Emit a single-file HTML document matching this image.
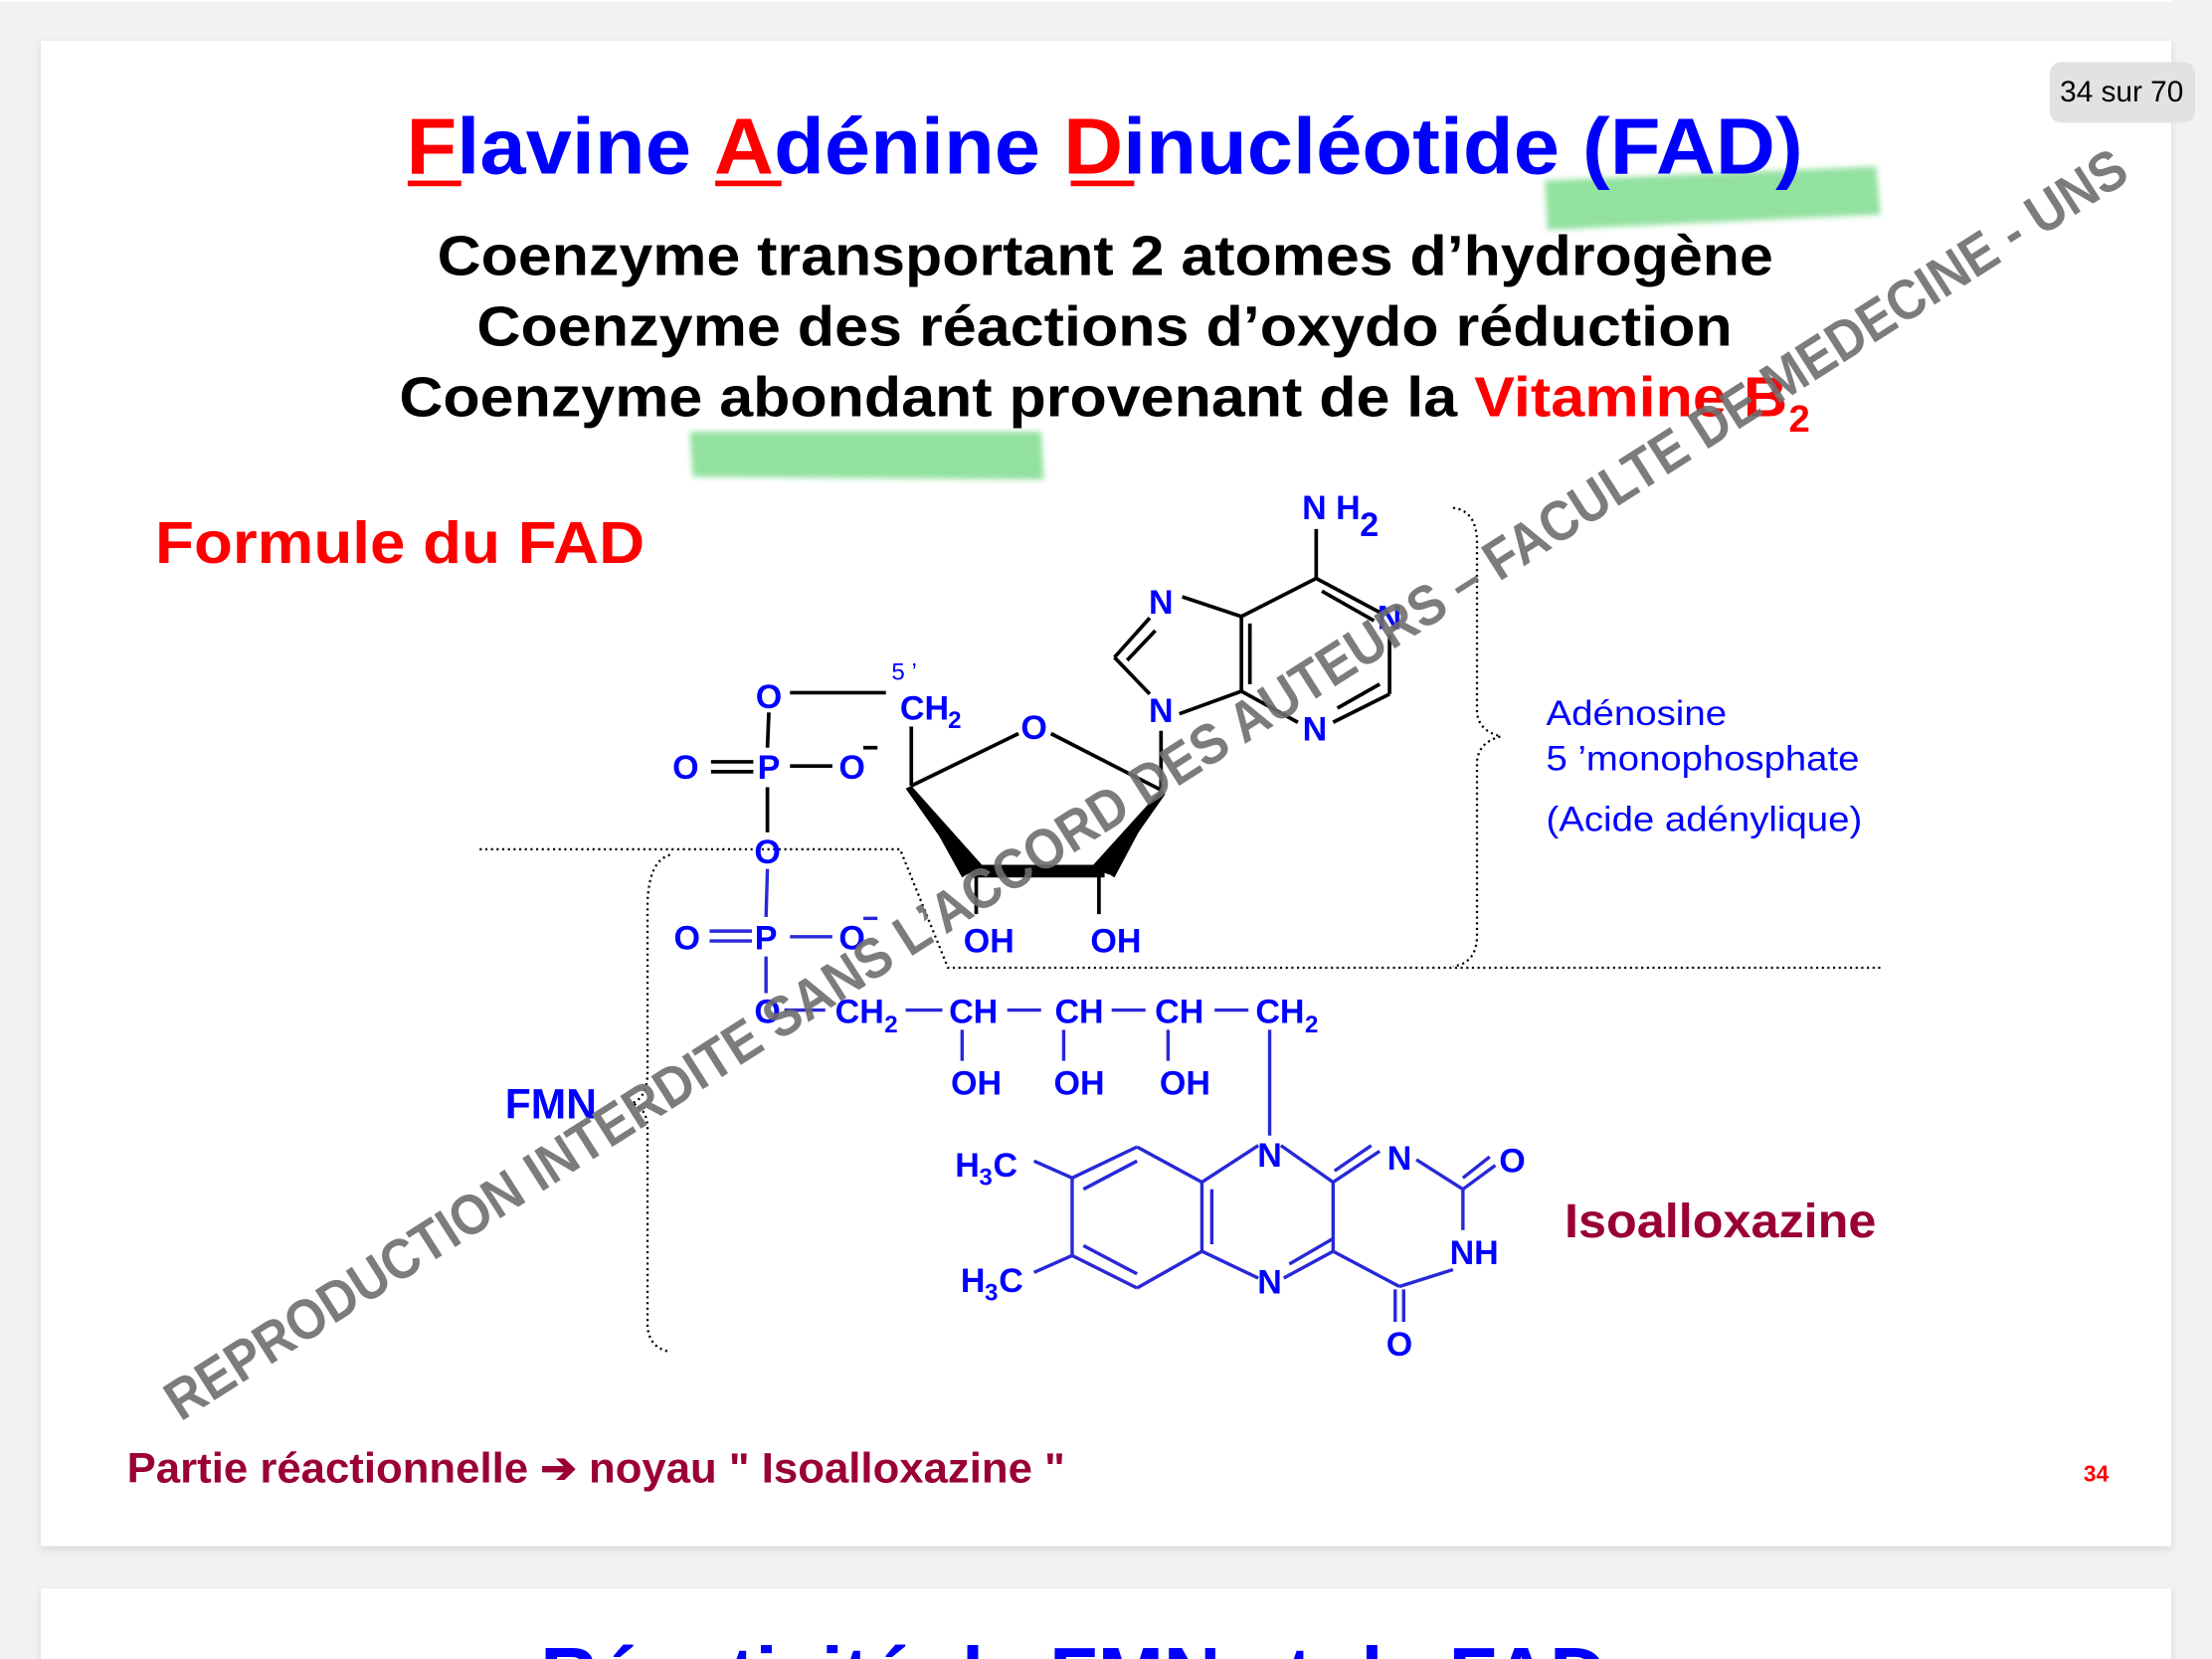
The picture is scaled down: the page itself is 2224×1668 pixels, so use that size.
<!DOCTYPE html>
<html><head><meta charset="utf-8"><style>
html,body{margin:0;padding:0;background:#f1f2f4;}
svg{display:block;}
text{font-family:"Liberation Sans",Arial,sans-serif;}
</style></head><body>
<svg width="2224" height="1668" viewBox="0 0 1568 1176" xmlns="http://www.w3.org/2000/svg">
<defs>
<filter id="sh" x="-5%" y="-5%" width="110%" height="110%"><feGaussianBlur stdDeviation="3"/></filter>
<filter id="bl"><feGaussianBlur stdDeviation="2"/></filter>
</defs>
<rect width="1568" height="1176" fill="#f1f2f4"/>
<rect x="0" y="-10" width="1540" height="11" fill="#fff"/>
<rect x="29" y="31" width="1510" height="1067" fill="#d5d6d8" filter="url(#sh)"/>
<rect x="29" y="29" width="1510" height="1067" fill="#fff"/>
<rect x="29" y="1128" width="1510" height="60" fill="#d5d6d8" filter="url(#sh)"/>
<rect x="29" y="1126" width="1510" height="60" fill="#fff"/>
<text x="383" y="1207" font-size="56" font-weight="bold" fill="#0000ff">Réactivité de FMN et de FAD</text>

<!-- highlights -->
<path d="M1095,128 L1330,118 L1333,152 L1097,163 Z" fill="#7fdc8f" opacity="0.85" filter="url(#bl)"/>
<path d="M489,306 L738,306 L740,340 L491,338 Z" fill="#7fdc8f" opacity="0.85" filter="url(#bl)"/>

<!-- title -->
<text x="288" y="123" font-size="56" font-weight="bold" fill="#0000ff" textLength="990" lengthAdjust="spacingAndGlyphs"><tspan fill="#ff0000">F</tspan>lavine <tspan fill="#ff0000">A</tspan>dénine <tspan fill="#ff0000">D</tspan>inucléotide (FAD)</text>
<rect x="289" y="128" width="38" height="4" fill="#ff0000"/>
<rect x="507" y="128" width="47" height="4" fill="#ff0000"/>
<rect x="759" y="128" width="45" height="4" fill="#ff0000"/>

<text x="310" y="195" font-size="40" font-weight="bold" fill="#000" textLength="947" lengthAdjust="spacingAndGlyphs">Coenzyme transportant 2 atomes d’hydrogène</text>
<text x="338" y="245" font-size="40" font-weight="bold" fill="#000" textLength="890" lengthAdjust="spacingAndGlyphs">Coenzyme des réactions d’oxydo    réduction</text>
<text x="283" y="295" font-size="40" font-weight="bold" fill="#000" textLength="750" lengthAdjust="spacingAndGlyphs">Coenzyme abondant provenant de la</text>
<text x="1045" y="295" font-size="40" font-weight="bold" fill="#ff0000" textLength="222" lengthAdjust="spacingAndGlyphs">Vitamine B</text>
<text x="1268" y="306" font-size="27" font-weight="bold" fill="#ff0000">2</text>

<!-- badge -->
<rect x="1453" y="44" width="103" height="43" rx="8" fill="#e2e2e2"/>
<text x="1504" y="72" font-size="21" fill="#000" text-anchor="middle">34 sur 70</text>

<text x="110" y="399" font-size="42" font-weight="bold" fill="#ff0000" textLength="347" lengthAdjust="spacingAndGlyphs">Formule du FAD</text>

<!-- dotted boundaries -->
<g fill="none" stroke="#000" stroke-width="1.6" stroke-dasharray="1.5 2.5">
<path d="M340,602 L638,602 L672,686 L1335,686"/>
<path d="M475,606 Q460,610 459,640 L459,760 Q459,778 448,782 Q459,786 459,800 L459,940 Q460,955 474,958"/>
<path d="M1030,360 Q1047,362 1047,385 L1047,505 Q1048,518 1064,522 Q1048,526 1047,540 L1047,665 Q1046,683 1030,685"/>
</g>

<!-- black part -->
<g stroke="#000" stroke-width="2.6" fill="none">
<line x1="560" y1="491" x2="628" y2="491"/>
<line x1="545" y1="505" x2="544" y2="530"/>
<line x1="544" y1="558" x2="544" y2="590"/>
<line x1="504" y1="540" x2="534" y2="540"/><line x1="504" y1="547" x2="534" y2="547"/>
<line x1="560" y1="543" x2="590" y2="543"/>
<line x1="612" y1="530" x2="622" y2="530"/>
<line x1="646" y1="515" x2="646" y2="557"/>
<line x1="646" y1="557" x2="722" y2="520"/>
<line x1="745" y1="520" x2="823" y2="560"/>
<line x1="692" y1="620" x2="692" y2="648"/>
<line x1="779" y1="620" x2="779" y2="648"/>
<line x1="823" y1="560" x2="823" y2="518"/>
<line x1="836" y1="506" x2="880" y2="490"/>
<line x1="880" y1="490" x2="880" y2="437"/><line x1="886" y1="485" x2="886" y2="442"/>
<line x1="880" y1="437" x2="838" y2="423"/>
<line x1="815" y1="438" x2="790" y2="466"/><line x1="819" y1="447" x2="799" y2="468"/>
<line x1="790" y1="466" x2="815" y2="492"/>
<line x1="880" y1="437" x2="933" y2="410"/>
<line x1="933" y1="410" x2="978" y2="434"/><line x1="937" y1="419" x2="974" y2="440"/>
<line x1="985" y1="450" x2="985" y2="492"/>
<line x1="985" y1="492" x2="945" y2="512"/><line x1="978" y1="485" x2="948" y2="502"/>
<line x1="880" y1="490" x2="920" y2="512"/>
<line x1="933" y1="375" x2="933" y2="410"/>
</g>
<polygon points="646,557 692,617 685,620 642,559" fill="#000"/>
<polygon points="823,560 779,617 786,620 826,563" fill="#000"/>
<polygon points="688,613 783,613 783,622 688,622" fill="#000"/>
<polygon points="646,557 696,613 682,622" fill="#000"/>
<polygon points="823,560 775,613 790,622" fill="#000"/>
<g font-weight="bold" fill="#0000ff" font-size="24">
<text x="545" y="502" text-anchor="middle">O</text>
<text x="638" y="510" font-size="24">CH</text><text x="672" y="516" font-size="17">2</text>
<text x="632" y="482" font-size="17" font-weight="normal">5 ’</text>
<text x="486" y="552" text-anchor="middle">O</text>
<text x="545" y="552" text-anchor="middle">P</text>
<text x="604" y="552" text-anchor="middle">O</text>
<text x="544" y="612" text-anchor="middle">O</text>
<text x="733" y="524" text-anchor="middle">O</text>
<text x="701" y="675" text-anchor="middle">OH</text>
<text x="791" y="675" text-anchor="middle">OH</text>
<text x="823" y="512" text-anchor="middle">N</text>
<text x="823" y="435" text-anchor="middle">N</text>
<text x="985" y="446" text-anchor="middle">N</text>
<text x="932" y="525" text-anchor="middle">N</text>
<text x="923" y="368">N H</text><text x="964" y="380">2</text>
</g>

<!-- blue FMN part -->
<g stroke="#2828d8" stroke-width="2.4" fill="none">
<line x1="544" y1="616" x2="543" y2="650"/>
<line x1="543" y1="678" x2="543" y2="704"/>
<line x1="503" y1="660" x2="533" y2="660"/><line x1="503" y1="667" x2="533" y2="667"/>
<line x1="560" y1="664" x2="590" y2="664"/>
<line x1="612" y1="651" x2="622" y2="651"/>
<line x1="556" y1="716" x2="585" y2="716"/>
<line x1="642" y1="716" x2="668" y2="716"/>
<line x1="714" y1="716" x2="738" y2="716"/>
<line x1="788" y1="716" x2="812" y2="716"/>
<line x1="861" y1="716" x2="885" y2="716"/>
<line x1="682" y1="730" x2="682" y2="752"/>
<line x1="754" y1="730" x2="754" y2="752"/>
<line x1="828" y1="730" x2="828" y2="752"/>
<line x1="900" y1="730" x2="900" y2="805"/>
<line x1="760" y1="835" x2="806" y2="813"/><line x1="768" y1="843" x2="806" y2="823"/>
<line x1="806" y1="813" x2="852" y2="838"/>
<line x1="852" y1="838" x2="852" y2="887"/><line x1="859" y1="843" x2="859" y2="882"/>
<line x1="852" y1="887" x2="806" y2="913"/>
<line x1="806" y1="913" x2="760" y2="890"/><line x1="806" y1="903" x2="768" y2="883"/>
<line x1="760" y1="890" x2="760" y2="835"/>
<line x1="852" y1="838" x2="892" y2="812"/>
<line x1="908" y1="812" x2="945" y2="838"/>
<line x1="945" y1="838" x2="945" y2="887"/>
<line x1="945" y1="887" x2="910" y2="906"/><line x1="945" y1="878" x2="914" y2="896"/>
<line x1="852" y1="887" x2="892" y2="906"/>
<line x1="945" y1="838" x2="978" y2="816"/><line x1="946" y1="830" x2="972" y2="812"/>
<line x1="1004" y1="822" x2="1037" y2="843"/>
<line x1="1037" y1="843" x2="1060" y2="826"/><line x1="1037" y1="835" x2="1056" y2="820"/>
<line x1="1037" y1="843" x2="1037" y2="872"/>
<line x1="1030" y1="900" x2="992" y2="912"/>
<line x1="945" y1="887" x2="992" y2="912"/>
<line x1="989" y1="914" x2="989" y2="937"/><line x1="995" y1="914" x2="995" y2="937"/>
<line x1="733" y1="823" x2="760" y2="835"/>
<line x1="733" y1="902" x2="760" y2="890"/>
</g>
<g font-weight="bold" fill="#0000ff" font-size="24">
<text x="487" y="673" text-anchor="middle">O</text>
<text x="543" y="673" text-anchor="middle">P</text>
<text x="604" y="673" text-anchor="middle">O</text>
<text x="544" y="725" text-anchor="middle">O</text>
<text x="592" y="725">CH</text><text x="627" y="732" font-size="17">2</text>
<text x="690" y="725" text-anchor="middle">CH</text>
<text x="765" y="725" text-anchor="middle">CH</text>
<text x="836" y="725" text-anchor="middle">CH</text>
<text x="890" y="725">CH</text><text x="925" y="732" font-size="17">2</text>
<text x="692" y="776" text-anchor="middle">OH</text>
<text x="765" y="776" text-anchor="middle">OH</text>
<text x="840" y="776" text-anchor="middle">OH</text>
<text x="900" y="827" text-anchor="middle">N</text>
<text x="900" y="917" text-anchor="middle">N</text>
<text x="992" y="829" text-anchor="middle">N</text>
<text x="1072" y="831" text-anchor="middle">O</text>
<text x="1045" y="896" text-anchor="middle">NH</text>
<text x="992" y="961" text-anchor="middle">O</text>
<text x="677" y="834">H</text><text x="694" y="840" font-size="17">3</text><text x="704" y="834">C</text>
<text x="681" y="916">H</text><text x="698" y="922" font-size="17">3</text><text x="708" y="916">C</text>
</g>

<text x="358" y="793" font-size="30" font-weight="bold" fill="#0000ff">FMN</text>
<text x="1096" y="514" font-size="25" fill="#0000ff" textLength="128" lengthAdjust="spacingAndGlyphs">Adénosine</text>
<text x="1096" y="546" font-size="25" fill="#0000ff" textLength="222" lengthAdjust="spacingAndGlyphs">5 ’monophosphate</text>
<text x="1096" y="589" font-size="25" fill="#0000ff" textLength="224" lengthAdjust="spacingAndGlyphs">(Acide adénylique)</text>
<text x="1109" y="877" font-size="34" font-weight="bold" fill="#9a0035" textLength="221" lengthAdjust="spacingAndGlyphs">Isoalloxazine</text>
<text x="90" y="1051" font-size="30" font-weight="bold" fill="#9a0035" textLength="665" lengthAdjust="spacingAndGlyphs">Partie réactionnelle ➔ noyau " Isoalloxazine "</text>
<text x="1477" y="1050" font-size="16" font-weight="bold" fill="#ff0000">34</text>

<!-- watermark -->
<text x="0" y="0" font-size="40" font-weight="bold" fill="#6e6e6e" opacity="0.9" transform="translate(128,1008) rotate(-32.5)" textLength="1640" lengthAdjust="spacingAndGlyphs">REPRODUCTION INTERDITE SANS L’ACCORD DES AUTEURS – FACULTE DE MEDECINE - UNS</text>
</svg>
</body></html>
